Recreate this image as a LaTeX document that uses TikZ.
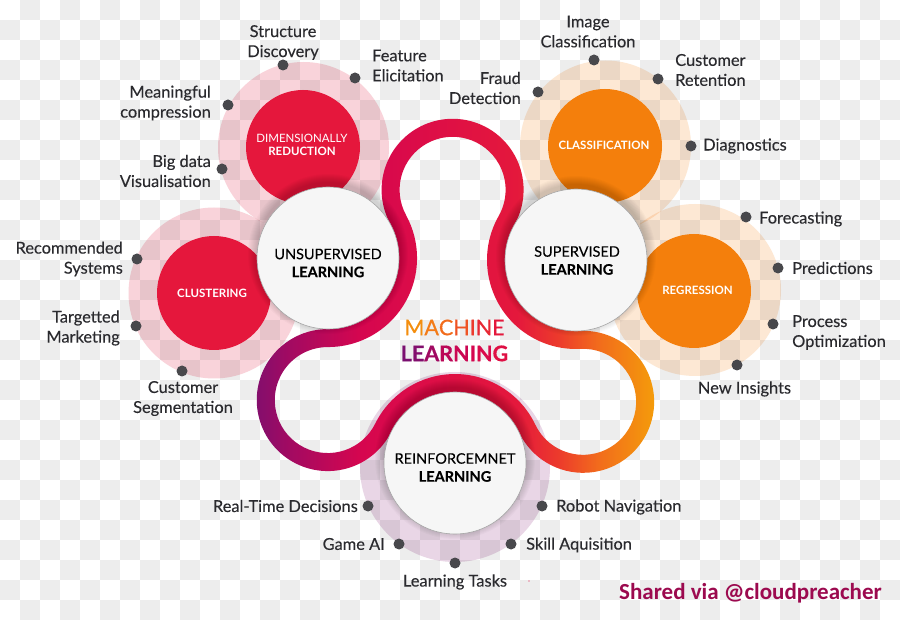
\documentclass[tikz,border=0pt]{standalone}
\usepackage{fontspec}
\setmainfont{Lato}
\newfontfamily\itemfont[FakeBold=0.2]{Lato}
\newfontfamily\titlefont[FakeBold=0.6]{Lato}
\newfontfamily\sharedfont{Carlito}

\definecolor{cellgray}{HTML}{EDEDED}
\definecolor{dotgray}{HTML}{48484C}
\definecolor{labelgray}{HTML}{2A2A2E}
\definecolor{ballwhite}{HTML}{F6F6F6}
\definecolor{redball}{HTML}{E5173C}
\definecolor{orangeball}{HTML}{F47F0C}
\definecolor{palered}{HTML}{F9D3DA}
\definecolor{paleorange}{HTML}{FDE8D4}
\definecolor{palepurple}{HTML}{E9D6E6}
\definecolor{sharedred}{HTML}{9C0A4F}
\definecolor{ribA}{HTML}{7A0F70}
\definecolor{ribB}{HTML}{A10A62}
\definecolor{ribC}{HTML}{D6064F}
\definecolor{ribD}{HTML}{DF1044}
\definecolor{ribE}{HTML}{E4183C}
\definecolor{ribF}{HTML}{EC3A2C}
\definecolor{ribG}{HTML}{F26C1C}
\definecolor{ribH}{HTML}{F49D0A}

\pgfdeclarehorizontalshading{ribbonshade}{100bp}{color(0bp)=(ribA);color(25bp)=(ribA);color(30bp)=(ribB);color(39bp)=(ribC);color(50bp)=(ribD);color(58bp)=(ribE);color(63bp)=(ribF);color(68bp)=(ribG);color(75bp)=(ribH);color(100bp)=(ribH)}

\newcommand\ribbonpath[1]{(452.6,-189.8) ++(208.7:{62+#1})
  arc[start angle=208.7,end angle=-29.63,radius={62+#1}]
  arc[start angle=150.37,end angle=272.87,radius={80-#1}]
  arc[start angle=92.87,end angle=-154.46,radius={62+#1}]
  arc[start angle=25.54,end angle=153.67,radius={80-#1}]
  arc[start angle=-26.33,end angle=-270.12,radius={62+#1}]
  arc[start angle=-90.12,end angle=28.7,radius={80-#1}]
  -- cycle}

\tikzset{
  graycell/.style={fill=cellgray},
  paledisc/.style={circle,minimum size=#1,inner sep=0pt},
  colorball/.style={circle,minimum size=114pt,inner sep=0pt},
  colortext/.style={inner sep=0pt,text=white,align=center,font=\fontsize{11.5}{13}\selectfont},
  whiteball/.style={circle,minimum size=142pt,inner sep=0pt,fill=ballwhite,draw=black!35,line width=0.6pt},
  whitetext/.style={inner sep=0pt,text=black,align=center,font=\itemfont\fontsize{14.5}{18}\selectfont},
  ballshadow/.style={fill=black,opacity=0.02},
  itemdot/.style={circle,minimum size=11pt,inner sep=0pt,fill=dotgray},
  itemtext/.style={inner sep=0pt,yshift=1pt,text=labelgray,font=\itemfont\fontsize{16.4}{20}\selectfont},
}

\begin{document}
\begin{tikzpicture}[x=1pt,y=1pt]
\useasboundingbox (0,0) rectangle (900,-620);
\fill[white] (0,0) rectangle (900,-620);

% checker background
\foreach \i in {0,...,44}{
  \foreach \j in {0,...,30}{
    \pgfmathtruncatemacro\odd{mod(\i+\j,2)}
    \ifnum\odd=1
      \fill[graycell] (20*\i,-20*\j) rectangle ++(20,-20);
    \fi
  }
}

\coordinate (unsup) at (328,-258);
\coordinate (sup) at (576,-260);
\coordinate (reinf) at (455,-463);

% pale discs
\begin{scope}[blend mode=multiply]
  \node[paledisc=171pt,fill=palered] (dimpale) at (303.5,-147.5) {};
  \node[paledisc=171pt,fill=palered] (cluspale) at (214,-293) {};
  \node[paledisc=171pt,fill=paleorange] (classpale) at (605.5,-146) {};
  \node[paledisc=172pt,fill=paleorange] (regpale) at (695,-290) {};
  \node[paledisc=190pt,fill=palepurple] (reinfpale) at (455,-467) {};
\end{scope}

\node[colorball,fill=redball] (dimball) at (303,-147) {};
\node[colorball,fill=redball] (clusball) at (214,-293) {};
\node[colorball,fill=orangeball] (classball) at (605,-146) {};
\node[colorball,fill=orangeball] (regball) at (694,-291) {};
\node[colortext] (dimtext) at (302,-144.5) {DIMENSIONALLY\\\textbf{REDUCTION}};
\node[colortext] (clustext) at (212,-293) {\textbf{CLUSTERING}};
\node[colortext] (classtext) at (604,-145) {\textbf{CLASSIFICATION}};
\node[colortext] (regtext) at (697.5,-290) {\textbf{REGRESSION}};

% ribbon
\shade[shading=ribbonshade,even odd rule] \ribbonpath{9} \ribbonpath{-9};

% white balls
\foreach \ball in {unsup,sup,reinf}{
  \foreach \r in {72,...,80}{
    \fill[ballshadow] (\ball) ++(0,4) circle[radius=\r];
  }
}
\node[whiteball] (unsupball) at (unsup) {};
\node[whiteball] (supball) at (sup) {};
\node[whiteball] (reinfball) at (reinf) {};
\node[whitetext] (unsuptext) at (328,-263) {UNSUPERVISED\\\textbf{LEARNING}};
\node[whitetext] (suptext) at (577,-260.5) {SUPERVISED\\\textbf{LEARNING}};
\node[whitetext] (reinftext) at (455,-467.5) {REINFORCEMNET\\\textbf{LEARNING}};

\node[inner sep=0pt,font=\titlefont\fontsize{21.5}{26}\selectfont,align=center] (title) at (454.5,-340.5) {%
  \textcolor{ribH!70!ribG}{M}\textcolor{ribG!70!ribH}{A}\textcolor{ribG}{C}\textcolor{ribG!50!ribF}{H}\textcolor{ribF}{I}\textcolor{ribF!50!ribE}{N}\textcolor{ribE}{E}\\
  \textbf{\textcolor{ribA}{L}\textcolor{ribA!80!ribB}{E}\textcolor{ribB}{A}\textcolor{ribB!50!ribC}{R}\textcolor{ribC!80!ribB}{N}\textcolor{ribC}{I}\textcolor{ribC!60!ribD}{N}\textcolor{ribD}{G}}};

% items
\foreach \name/\x/\y in {structure/283/65,feature/355/78,meaning/228/105,bigdata/222/169,
  recommend/137/259,targetted/136/326,segment/182/371,image/594/60,retention/658/79,
  fraud/538/92,diagnostics/691/146,forecast/746/217,predict/778/268,process/773/324,
  insights/737/365,realtime/368/506,gameai/399/544,tasks/455/563,skill/511/544,robot/542/506}{
  \node[itemdot] (\name dot) at (\x,-\y) {};
}
\node[itemtext,align=center] (structure) at (283,-43.5) {Structure\\Discovery};
\node[itemtext,align=left,anchor=west] (feature) at (372,-66.5) {Feature\\Elicitation};
\node[itemtext,align=right,anchor=east] (meaning) at (211,-104) {Meaningful\\compression};
\node[itemtext,align=right,anchor=east] (bigdata) at (211,-172) {Big data\\Visualisation};
\node[itemtext,align=right,anchor=east] (recommend) at (123,-260) {Recommended\\Systems};
\node[itemtext,align=right,anchor=east] (targetted) at (120,-329) {Targetted\\Marketing};
\node[itemtext,align=center] (segment) at (183,-399.5) {Customer\\Segmentation};
\node[itemtext,align=center] (image) at (588,-32.5) {Image\\Classification};
\node[itemtext,align=left,anchor=west] (retention) at (675,-71) {Customer\\Retention};
\node[itemtext,align=right,anchor=east] (fraud) at (521,-89) {Fraud\\Detection};
\node[itemtext,anchor=west] (diagnostics) at (703,-147) {Diagnostics};
\node[itemtext,anchor=west] (forecast) at (759,-220) {Forecasting};
\node[itemtext,anchor=west] (predict) at (792,-269) {Predictions};
\node[itemtext,align=left,anchor=west] (process) at (792,-333.5) {Process\\Optimization};
\node[itemtext] (insights) at (744.5,-390) {New Insights};
\node[itemtext,anchor=east] (realtime) at (358,-507) {Real-Time Decisions};
\node[itemtext,anchor=east] (gameai) at (385,-545) {Game AI};
\node[itemtext] (tasks) at (455,-583) {Learning Tasks};
\node[itemtext,anchor=west] (skill) at (526,-546) {Skill Aquisition};
\node[itemtext,anchor=west] (robot) at (556,-508) {Robot Navigation};

\node[inner sep=0pt,anchor=west,text=sharedred,font=\sharedfont\bfseries\fontsize{23}{26}\selectfont] (shared) at (619,-593.5) {Shared via @cloudpreacher};
\fill[ribD] (529,-581) circle[radius=0.6];
\end{tikzpicture}
\end{document}
